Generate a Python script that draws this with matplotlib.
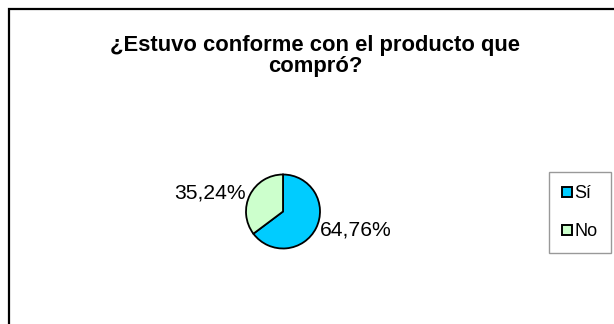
import matplotlib
matplotlib.use("Agg")
import matplotlib.pyplot as plt
from matplotlib.patches import Rectangle
from matplotlib.lines import Line2D

# ── Data ─────────────────────────────────────────────────────────────────────
categories = ["Sí", "No"]
values = [64.76, 35.24]
colors = ["#00CCFF", "#CCFFCC"]
title = "¿Estuvo conforme con el producto que\ncompró?"

plt.rcParams["font.family"] = ["Liberation Sans", "DejaVu Sans"]

W, H = 614, 324
fig = plt.figure(figsize=(W / 100, H / 100), dpi=100)

# outer chart border (runs off the right and bottom edges)
fig.patches.append(Rectangle((9 / W, -0.1), 1.2, (H - 9) / H + 0.1,
                             transform=fig.transFigure, fill=False,
                             edgecolor="black", linewidth=1.6))

fig.text(315 / W, 1 - 56 / H, title, ha="center", va="center",
         fontsize=15.8, fontweight="bold", linespacing=1.0)

# ── Pie ──────────────────────────────────────────────────────────────────────
cx, cy, r = 283, 211.5, 37
ax = fig.add_axes([(cx - r) / W, (H - cy - r) / H, 2 * r / W, 2 * r / H])
labels = [f"{v:.2f}%".replace(".", ",") for v in values]
wedges, texts = ax.pie(values, colors=colors, startangle=90, counterclock=False,
                       labels=labels, labeldistance=1.12,
                       wedgeprops=dict(edgecolor="black", linewidth=1.3),
                       textprops=dict(fontsize=15.2))
ax.set_xlim(-1, 1)
ax.set_ylim(-1, 1)
ax.axis("off")

# ── Legend ───────────────────────────────────────────────────────────────────
handles = [Line2D([], [], marker="s", linestyle="none", markersize=6.5,
                  markerfacecolor=c, markeredgecolor="black", markeredgewidth=1.4)
           for c in colors]
leg = fig.legend(handles, categories, loc="center",
                 bbox_to_anchor=(580 / W, 1 - 212.5 / H), fontsize=13,
                 frameon=True, fancybox=False, handlelength=0.55,
                 handletextpad=0.12, labelspacing=1.15, borderpad=0.75,
                 borderaxespad=0)
leg.get_frame().set_edgecolor("#808080")
leg.get_frame().set_linewidth(1.0)

fig.savefig("out.png", dpi=100)
